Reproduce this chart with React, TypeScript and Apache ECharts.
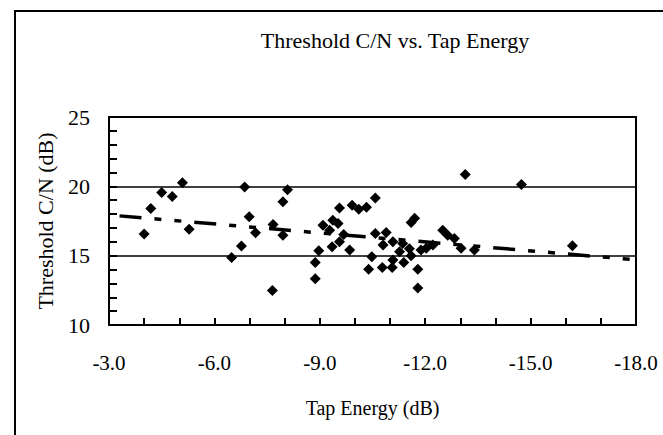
import React, { useEffect, useRef } from "react";
import * as echarts from "echarts";

const tapEnergy = [
  -4.0, -4.19, -4.5, -4.8, -5.09, -5.28, -6.49, -6.77, -6.86, -6.99, -7.17, -7.65, -7.67,
  -7.95, -7.95, -8.08, -8.87, -8.87, -8.97, -9.09, -9.28, -9.35, -9.37, -9.52, -9.56, -9.56,
  -9.68, -9.85, -9.92, -10.11, -10.33, -10.39, -10.48, -10.58, -10.58, -10.78, -10.8, -10.89,
  -11.06, -11.08, -11.08, -11.27, -11.36, -11.39, -11.55, -11.6, -11.6, -11.7, -11.79, -11.79,
  -11.88, -12.03, -12.22, -12.5, -12.64, -12.83, -13.02, -13.14, -13.4, -14.74, -16.19,
];
const thresholdCN = [
  16.56, 18.4, 19.55, 19.26, 20.26, 16.91, 14.86, 15.69, 19.95, 17.8, 16.65, 12.49, 17.25,
  18.88, 16.48, 19.76, 14.5, 13.33, 15.36, 17.2, 16.84, 15.65, 17.56, 17.32, 18.44, 16.0,
  16.53, 15.41, 18.64, 18.35, 18.49, 14.02, 14.93, 19.16, 16.6, 14.14, 15.77, 16.67,
  14.14, 16.0, 14.69, 15.29, 15.88, 14.5, 15.5, 15.0, 17.4, 17.7, 14.02, 12.66,
  15.4, 15.53, 15.77, 16.84, 16.48, 16.24, 15.53, 20.86, 15.41, 20.14, 15.72,
];
const trendX = [-3.3, -18.0];
const trendY = [17.87, 14.7];
const xTicks = { min: -18, max: -3, step: 3 };
const yTicks = { min: 10, max: 25, step: 5 };

const FONT = "'Liberation Serif', 'DejaVu Serif', serif";

export default function App() {
  const ref = useRef<HTMLDivElement>(null);
  useEffect(() => {
    document.body.style.margin = "0";
    const chart = echarts.init(ref.current!, null, { renderer: "svg" });
    chart.setOption({
      animation: false,
      grid: { left: 109, top: 117, right: 27, bottom: 110 },
      graphic: [
        {
          type: "rect",
          shape: { x: 15, y: 11, width: 700, height: 500 },
          style: { fill: "transparent", stroke: "#000", lineWidth: 2 },
          silent: true,
        },
        {
          type: "text",
          x: 395,
          y: 40,
          style: {
            text: "Threshold C/N vs. Tap Energy",
            font: `22px ${FONT}`,
            fill: "#000",
            textAlign: "center",
            textVerticalAlign: "middle",
          },
        },
      ],
      xAxis: [
        {
          type: "value",
          inverse: true,
          min: xTicks.min,
          max: xTicks.max,
          interval: xTicks.step,
          name: "Tap Energy (dB)",
          nameLocation: "middle",
          nameGap: 73,
          nameTextStyle: { fontFamily: FONT, fontSize: 20, color: "#000" },
          axisLine: { show: true, onZero: false, lineStyle: { color: "#000", width: 2 } },
          axisTick: { show: true, inside: true, length: 7, lineStyle: { color: "#000", width: 2 } },
          minorTick: { show: true, splitNumber: 3, length: 7, lineStyle: { color: "#000", width: 2 } },
          splitLine: { show: false },
          axisLabel: {
            margin: 27,
            fontFamily: FONT,
            fontSize: 21,
            color: "#000",
            formatter: (v: number) => v.toFixed(1),
          },
        },
        {
          type: "value",
          position: "top",
          inverse: true,
          min: xTicks.min,
          max: xTicks.max,
          interval: xTicks.step,
          axisLine: { show: true, onZero: false, lineStyle: { color: "#000", width: 2 } },
          axisTick: { show: false },
          axisLabel: { show: false },
          splitLine: { show: false },
        },
      ],
      yAxis: [
        {
          type: "value",
          min: yTicks.min,
          max: yTicks.max,
          interval: yTicks.step,
          name: "Threshold C/N (dB)",
          nameLocation: "middle",
          nameGap: 53,
          nameTextStyle: { fontFamily: FONT, fontSize: 22, color: "#000" },
          axisLine: { show: true, onZero: false, lineStyle: { color: "#000", width: 2 } },
          axisTick: { show: true, inside: true, length: 8, lineStyle: { color: "#000", width: 2 } },
          minorTick: { show: true, splitNumber: 5, length: 8, lineStyle: { color: "#000", width: 2 } },
          splitLine: { show: true, lineStyle: { color: "#000", width: 1.5 } },
          axisLabel: {
            margin: 19,
            fontFamily: FONT,
            fontSize: 22,
            color: "#000",
            padding: [6, 0, 0, 0],
          },
        },
        {
          type: "value",
          position: "right",
          min: yTicks.min,
          max: yTicks.max,
          interval: yTicks.step,
          axisLine: { show: true, onZero: false, lineStyle: { color: "#000", width: 2 } },
          axisTick: { show: false },
          axisLabel: { show: false },
          splitLine: { show: false },
        },
      ],
      series: [
        {
          type: "scatter",
          data: tapEnergy.map((x, i) => [x, thresholdCN[i]]),
          symbol: "diamond",
          symbolSize: 11,
          itemStyle: { color: "#000", opacity: 1 },
          z: 3,
        },
        {
          type: "line",
          data: trendX.map((x, i) => [x, trendY[i]]),
          symbol: "none",
          lineStyle: { color: "#000", width: 3.5, type: [22, 13, 7, 13, 7, 13] },
          z: 2,
        },
      ],
    });
    return () => chart.dispose();
  }, []);
  return <div ref={ref} style={{ width: 663, height: 435, background: "#fff" }} />;
}
